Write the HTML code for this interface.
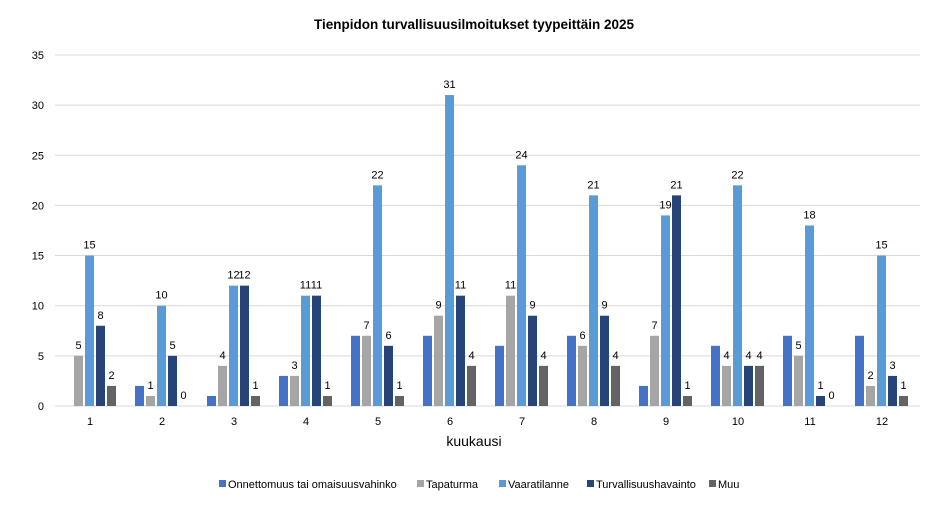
<!DOCTYPE html>
<html><head><meta charset="utf-8"><style>
html,body{margin:0;padding:0;background:#fff;}
svg{display:block;font-family:"Liberation Sans",sans-serif;}
</style></head><body>
<svg id="c" width="949" height="510" xmlns="http://www.w3.org/2000/svg">
<rect width="949" height="510" fill="#fff"/>
<text x="474" y="29" text-anchor="middle" font-size="13.5" font-weight="bold" fill="#000">Tienpidon turvallisuusilmoitukset tyypeittäin 2025</text>
<text x="474" y="446" text-anchor="middle" font-size="14" fill="#000">kuukausi</text>
<g font-size="11" fill="#000">
<rect x="219" y="480" width="7" height="7" fill="#4472C4"/><text x="228" y="488">Onnettomuus tai omaisuusvahinko</text>
<rect x="417" y="480" width="7" height="7" fill="#A5A5A5"/><text x="426" y="488">Tapaturma</text>
<rect x="499" y="480" width="7" height="7" fill="#5B9BD5"/><text x="508" y="488">Vaaratilanne</text>
<rect x="587" y="480" width="7" height="7" fill="#264478"/><text x="596" y="488">Turvallisuushavainto</text>
<rect x="709" y="480" width="7" height="7" fill="#636363"/><text x="718" y="488">Muu</text>
</g>
</svg>
<script>
var s=document.getElementById('c'),ns='http://www.w3.org/2000/svg',h='';
for(var i=0;i<=7;i++){var y=406-i*5*10.03;
h+='<line x1="55" x2="920" y1="'+y+'" y2="'+y+'" stroke="#d9d9d9" stroke-width="1"/>';
h+='<text x="44" y="'+(y+4)+'" text-anchor="end" font-size="11">'+(i*5)+'</text>';}
var d=[[0,5,15,8,2],[2,1,10,5,0],[1,4,12,12,1],[3,3,11,11,1],[7,7,22,6,1],[7,9,31,11,4],[6,11,24,9,4],[7,6,21,9,4],[2,7,19,21,1],[6,4,22,4,4],[7,5,18,1,0],[7,2,15,3,1]];
var col=['#4472C4','#A5A5A5','#5B9BD5','#264478','#636363'];
for(var m=0;m<12;m++){h+='<text x="'+(90+m*72)+'" y="425" text-anchor="middle" font-size="11">'+(m+1)+'</text>';
for(var k=0;k<5;k++){var v=d[m][k],x=63+m*72+k*11,hh=v*10.03;
if(v>0)h+='<rect x="'+x+'" y="'+(406-hh)+'" width="9" height="'+hh+'" fill="'+col[k]+'"/>';
if(k>0)h+='<text x="'+(x+4.5)+'" y="'+(406-hh-7)+'" text-anchor="middle" font-size="11">'+v+'</text>';}}
s.insertAdjacentHTML('beforeend',h);
</script>
</body></html>
